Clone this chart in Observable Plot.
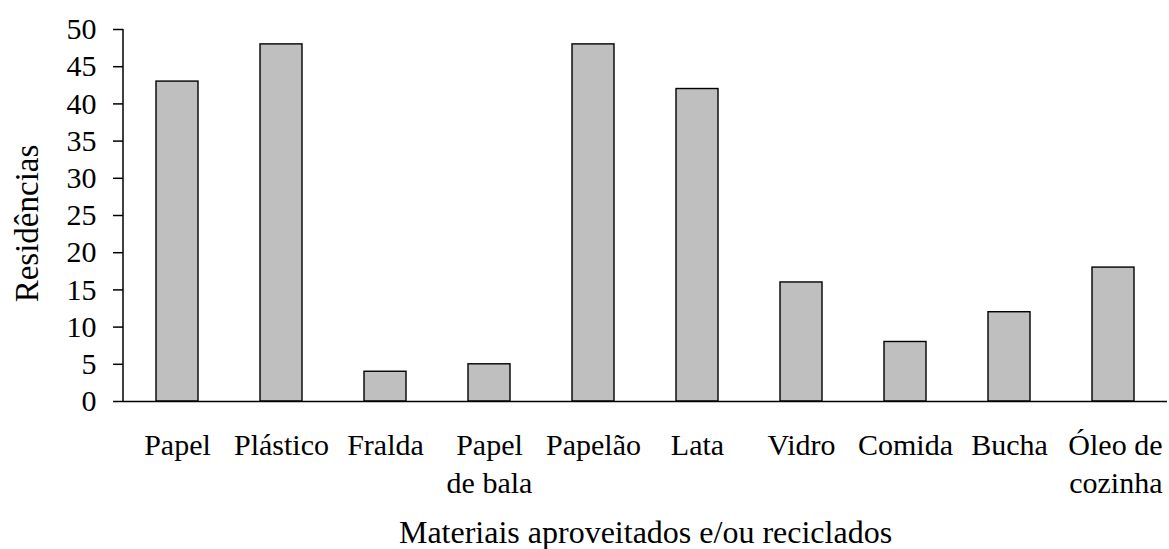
<!DOCTYPE html>
<html>
<head>
<meta charset="utf-8">
<script src="https://cdn.jsdelivr.net/npm/d3@7"></script>
<script src="https://cdn.jsdelivr.net/npm/@observablehq/plot@0.6"></script>
<style>
  html, body { margin: 0; padding: 0; background: #fff; }
  #chart svg { display: block; }
</style>
</head>
<body>
<div id="chart"></div>
<script>
// Materials reused and/or recycled, by number of households
const materiais = ["Papel", "Plástico", "Fralda", "Papel\nde bala", "Papelão", "Lata", "Vidro", "Comida", "Bucha", "Óleo de\ncozinha"];
const residencias = [43, 48, 4, 5, 48, 42, 16, 8, 12, 18];
const yTicks = [0, 5, 10, 15, 20, 25, 30, 35, 40, 45, 50];
const tituloX = "Materiais aproveitados e/ou reciclados";
const tituloY = "Residências";

const data = materiais.map((m, i) => ({material: m, valor: residencias[i]}));

const font = "'Liberation Serif', 'Times New Roman', serif";

// vertical axis line along the left edge of the plotting frame
function linhaEsquerda(index, scales, values, dims) {
  const line = document.createElementNS("http://www.w3.org/2000/svg", "line");
  line.setAttribute("x1", dims.marginLeft);
  line.setAttribute("x2", dims.marginLeft);
  line.setAttribute("y1", scales.y(50));
  line.setAttribute("y2", scales.y(0));
  line.setAttribute("stroke", "#000");
  line.setAttribute("stroke-width", 1.5);
  return line;
}

const ultimo = materiais[materiais.length - 1];

const chart = Plot.plot({
  width: 1169,
  height: 549,
  marginLeft: 123,
  marginRight: 2,
  marginTop: 29,
  marginBottom: 148,
  style: {fontFamily: font, fontSize: "30px", color: "#000", background: "#fff"},
  x: {domain: materiais, paddingInner: 0.6, paddingOuter: 0.3, label: null},
  y: {domain: [0, 50], label: null},
  marks: [
    Plot.barY(data, {x: "material", y: "valor", fill: "#bfbfbf", stroke: "#000", strokeWidth: 1.4}),
    Plot.axisY({ticks: yTicks, tickSize: 10, tickPadding: 17, stroke: "#000", strokeWidth: 1.5, strokeOpacity: 1, fontSize: 30, label: null}),
    // category labels; the last one is pushed against the right edge
    Plot.axisX({ticks: materiais.slice(0, -1), tickSize: 0, tickPadding: 27, fontSize: 30, lineHeight: 1.25, label: null}),
    Plot.axisX({ticks: [ultimo], tickSize: 0, tickPadding: 27, fontSize: 30, lineHeight: 1.25, textAnchor: "end", dx: 49, label: null}),
    Plot.ruleY([0], {stroke: "#000", strokeWidth: 1.5}),
    linhaEsquerda,
    Plot.text([tituloY], {frameAnchor: "left", dx: -86, dy: 8, rotate: -90, textAnchor: "middle", lineAnchor: "bottom", fontSize: 33, text: d => d}),
    Plot.text([tituloX], {frameAnchor: "bottom", dy: 141, textAnchor: "middle", lineAnchor: "bottom", fontSize: 32, text: d => d})
  ]
});

document.getElementById("chart").appendChild(chart);
</script>
</body>
</html>
